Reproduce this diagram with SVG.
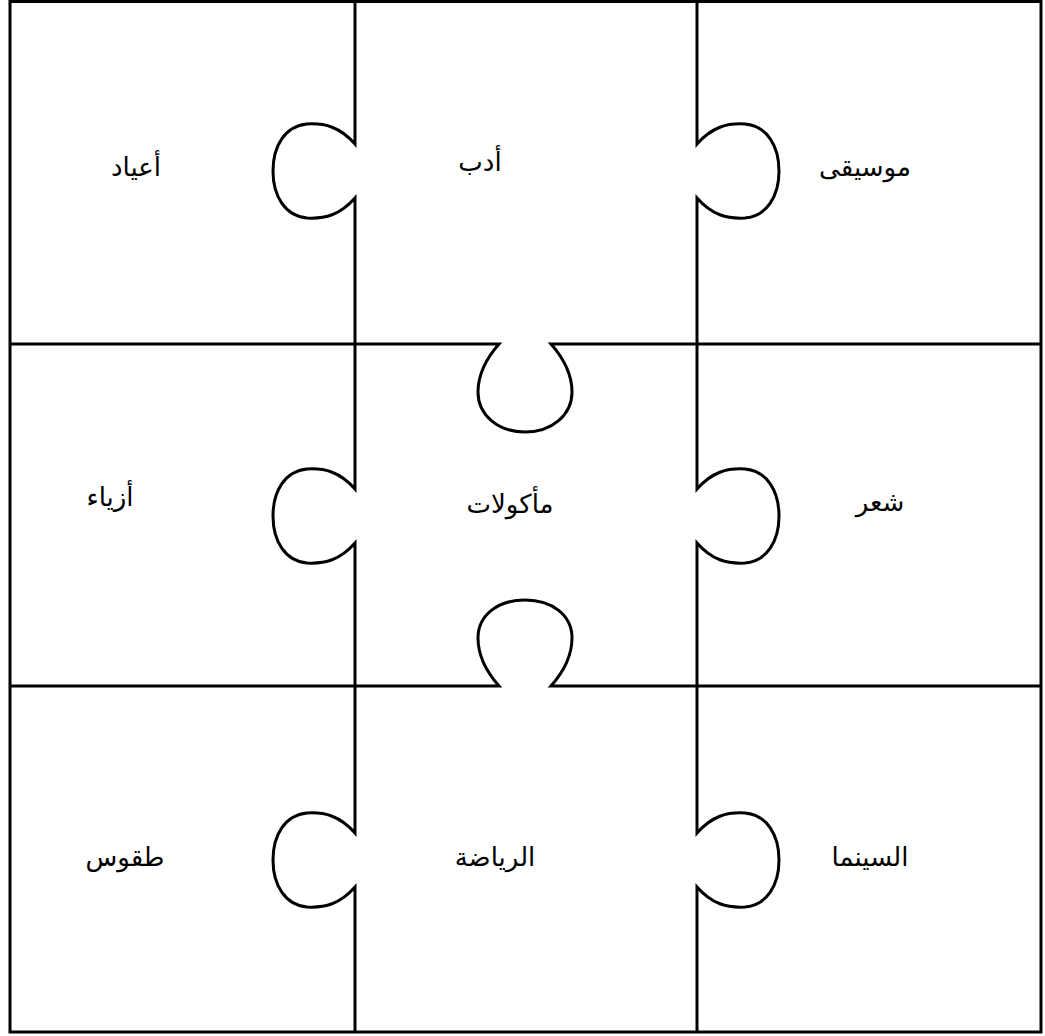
<svg xmlns="http://www.w3.org/2000/svg" width="1045" height="1036" viewBox="0 0 1045 1036">
<style>
.ln{fill:none;stroke:#000;stroke-width:3;stroke-linejoin:miter}
.t{font-family:"Liberation Serif","DejaVu Serif","DejaVu Sans",serif;font-size:26px;fill:#000;text-anchor:middle}
</style>
<rect x="0" y="0" width="1045" height="1036" fill="#fff"/>
<g id="connectors">
<rect class="ln" x="10" y="1.5" width="1031" height="1030.5"/>
<path class="ln" d="M355,1 V144 C340,127 325,123 307,124 C285,126 273,146 273,171 C273,196 285,216 307,218 C325,219 340,215 355,198 V489 C340,472 325,468 307,469 C285,471 273,491 273,516 C273,541 285,561 307,563 C325,564 340,560 355,543 V833 C340,816 325,812 307,813 C285,815 273,835 273,860 C273,885 285,905 307,907 C325,908 340,904 355,887 V1032"/>
<path class="ln" d="M697,1 V144 C712,127 727,123 745,124 C767,126 779,146 779,171 C779,196 767,216 745,218 C727,219 712,215 697,198 V489 C712,472 727,468 745,469 C767,471 779,491 779,516 C779,541 767,561 745,563 C727,564 712,560 697,543 V833 C712,816 727,812 745,813 C767,815 779,835 779,860 C779,885 767,905 745,907 C727,908 712,904 697,887 V1032"/>
<path class="ln" d="M10,344 H499 C484,361 478,378 478,392 C478,415 498,432 525,432 C552,432 572,415 572,392 C572,378 566,361 551,344 H1041"/>
<path class="ln" d="M10,686 H499 C484,669 478,652 478,638 C478,615 498,600 525,600 C552,600 572,615 572,638 C572,652 566,669 551,686 H1041"/>
</g>
<g id="n1"><text class="t" x="136" y="176">أعياد</text></g>
<g id="n2"><text class="t" x="480" y="171">أدب</text></g>
<g id="n3"><text class="t" x="865" y="176">موسيقى</text></g>
<g id="n4"><text class="t" x="110" y="506">أزياء</text></g>
<g id="n5"><text class="t" x="510" y="513">مأكولات</text></g>
<g id="n6"><text class="t" x="880" y="511">شعر</text></g>
<g id="n7"><text class="t" x="125" y="866">طقوس</text></g>
<g id="n8"><text class="t" x="495" y="866">الرياضة</text></g>
<g id="n9"><text class="t" x="870" y="866">السينما</text></g>
</svg>
